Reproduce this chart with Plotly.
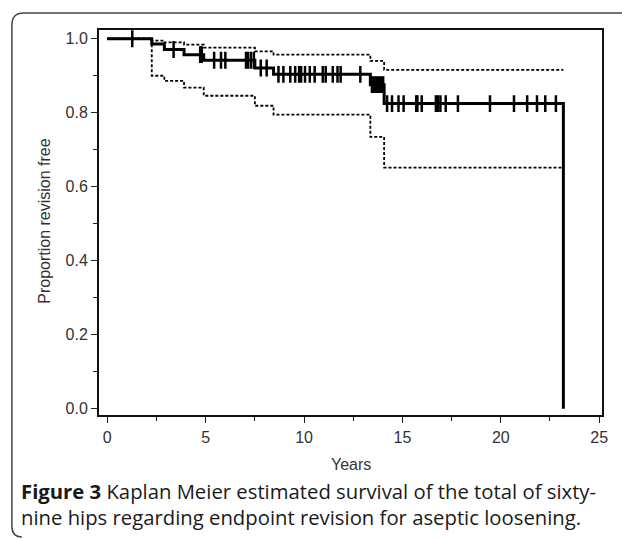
import numpy as np
import plotly.graph_objects as go

# ---- data ----
event_times = [2.26, 2.9, 3.9, 4.9, 7.5, 8.45, 13.37, 14.07, 23.18]
survival    = [0.986, 0.971, 0.957, 0.942, 0.921, 0.904, 0.876, 0.825, 0.0]
upper_ci    = [0.995, 0.990, 0.984, 0.976, 0.966, 0.957, 0.940, 0.916, 0.916]
lower_ci    = [0.900, 0.886, 0.868, 0.846, 0.819, 0.795, 0.735, 0.652, 0.652]
censor_times = [1.27, 3.37, 4.72, 4.8, 5.43, 5.78, 6.0, 7.05, 7.15, 7.3, 7.45,
                7.8, 8.1, 8.7, 8.95, 9.3, 9.55, 9.75, 9.85, 10.05, 10.29, 10.54,
                10.95, 11.1, 11.46, 11.7, 11.86, 12.86, 13.45, 13.55, 13.65,
                13.75, 13.85, 13.95, 14.02, 14.22, 14.47, 14.8, 15.06, 15.7,
                15.76, 15.98, 16.7, 16.8, 16.93, 17.2, 17.82, 19.45, 20.67,
                21.34, 21.84, 22.26, 22.8]
x_ticks = [0, 5, 10, 15, 20, 25]
y_ticks = [0.0, 0.2, 0.4, 0.6, 0.8, 1.0]
y_tick_labels = ["0.0", "0.2", "0.4", "0.6", "0.8", "1.0"]
x_title = "Years"
y_title = "Proportion revision free"
caption_bold = "Figure 3"
caption_rest = (" Kaplan Meier estimated survival of the total of sixty-<br>"
                "nine hips regarding endpoint revision for aseptic loosening.")

W, H = 622, 540

steps_x = [0.0] + event_times
steps_s = [1.0] + survival
steps_u = [1.0] + upper_ci
steps_l = [1.0] + lower_ci

idx = np.searchsorted(np.array(event_times), np.array(censor_times), side="right")
censor_y = np.array(steps_s)[idx]

fig = go.Figure()
fig.add_trace(go.Scatter(x=steps_x, y=steps_u, mode="lines", line_shape="hv",
                         line=dict(color="black", width=1.8, dash="3px,2px"),
                         hoverinfo="skip", showlegend=False))
fig.add_trace(go.Scatter(x=steps_x, y=steps_l, mode="lines", line_shape="hv",
                         line=dict(color="black", width=1.8, dash="3px,2px"),
                         hoverinfo="skip", showlegend=False))
fig.add_trace(go.Scatter(x=steps_x, y=steps_s, mode="lines", line_shape="hv",
                         line=dict(color="black", width=3),
                         hoverinfo="skip", showlegend=False))
fig.add_trace(go.Scatter(x=censor_times, y=censor_y, mode="markers",
                         marker=dict(symbol="line-ns", size=12,
                                     line=dict(color="black", width=2.5)),
                         hoverinfo="skip", showlegend=False))

def px(x):
    return x / W

def py(y):
    return 1 - y / H

x0, x1 = 100, 608
y0, y1 = 30, 417

fig.update_layout(
    width=W, height=H,
    margin=dict(l=0, r=0, t=0, b=0),
    paper_bgcolor="white", plot_bgcolor="white",
    font=dict(family="Arial, Liberation Sans, sans-serif", size=16, color="#333333"),
    xaxis=dict(domain=[px(x0), px(x1)], range=[-0.42, 25.15],
               tickvals=x_ticks, ticks="outside", ticklen=6, tickwidth=1.2,
               tickcolor="#222", showgrid=False, zeroline=False,
               showline=True, linecolor="#111", linewidth=2, mirror=True,
               minor=dict(dtick=2.5, tick0=0, ticks="outside", ticklen=4,
                          tickcolor="#222", showgrid=False),
               tickfont=dict(size=16, color="#333")),
    yaxis=dict(domain=[py(y1), py(y0)], range=[-0.018, 1.024],
               tickvals=y_ticks, ticktext=y_tick_labels, ticks="outside",
               ticklen=6, tickwidth=1.2, tickcolor="#222", showgrid=False,
               zeroline=False, showline=True, linecolor="#111", linewidth=2,
               mirror=True,
               minor=dict(dtick=0.1, tick0=0, ticks="outside", ticklen=4,
                          tickcolor="#222", showgrid=False),
               tickfont=dict(size=16, color="#333")),
    annotations=[
        dict(text=x_title, xref="paper", yref="paper", x=px(354), y=py(466),
             showarrow=False, font=dict(size=16, color="#333"),
             xanchor="center", yanchor="middle"),
        dict(text=y_title, xref="paper", yref="paper", x=px(45), y=py(222),
             showarrow=False, textangle=-90, font=dict(size=16, color="#333"),
             xanchor="center", yanchor="middle"),
        dict(text="<b>" + caption_bold + "</b>" + caption_rest,
             xref="paper", yref="paper", x=px(19), y=py(506),
             showarrow=False, align="left", xanchor="left", yanchor="middle",
             font=dict(family="Open Sans, Noto Sans, sans-serif", size=20.3,
                       color="#1a1a1a")),
    ],
    shapes=[
        dict(type="path", xref="paper", yref="paper",
             path=(f"M {px(640)} {py(13)} L {px(24)} {py(13)} "
                   f"Q {px(12)} {py(13)} {px(12)} {py(25)} "
                   f"L {px(12)} {py(528)} Q {px(12)} {py(539)} {px(22)} {py(539)}"),
             line=dict(color="#444", width=1.5)),
    ],
)

fig.write_html("out.html", config={"displayModeBar": False},
               post_script="document.body.style.margin='0';")
